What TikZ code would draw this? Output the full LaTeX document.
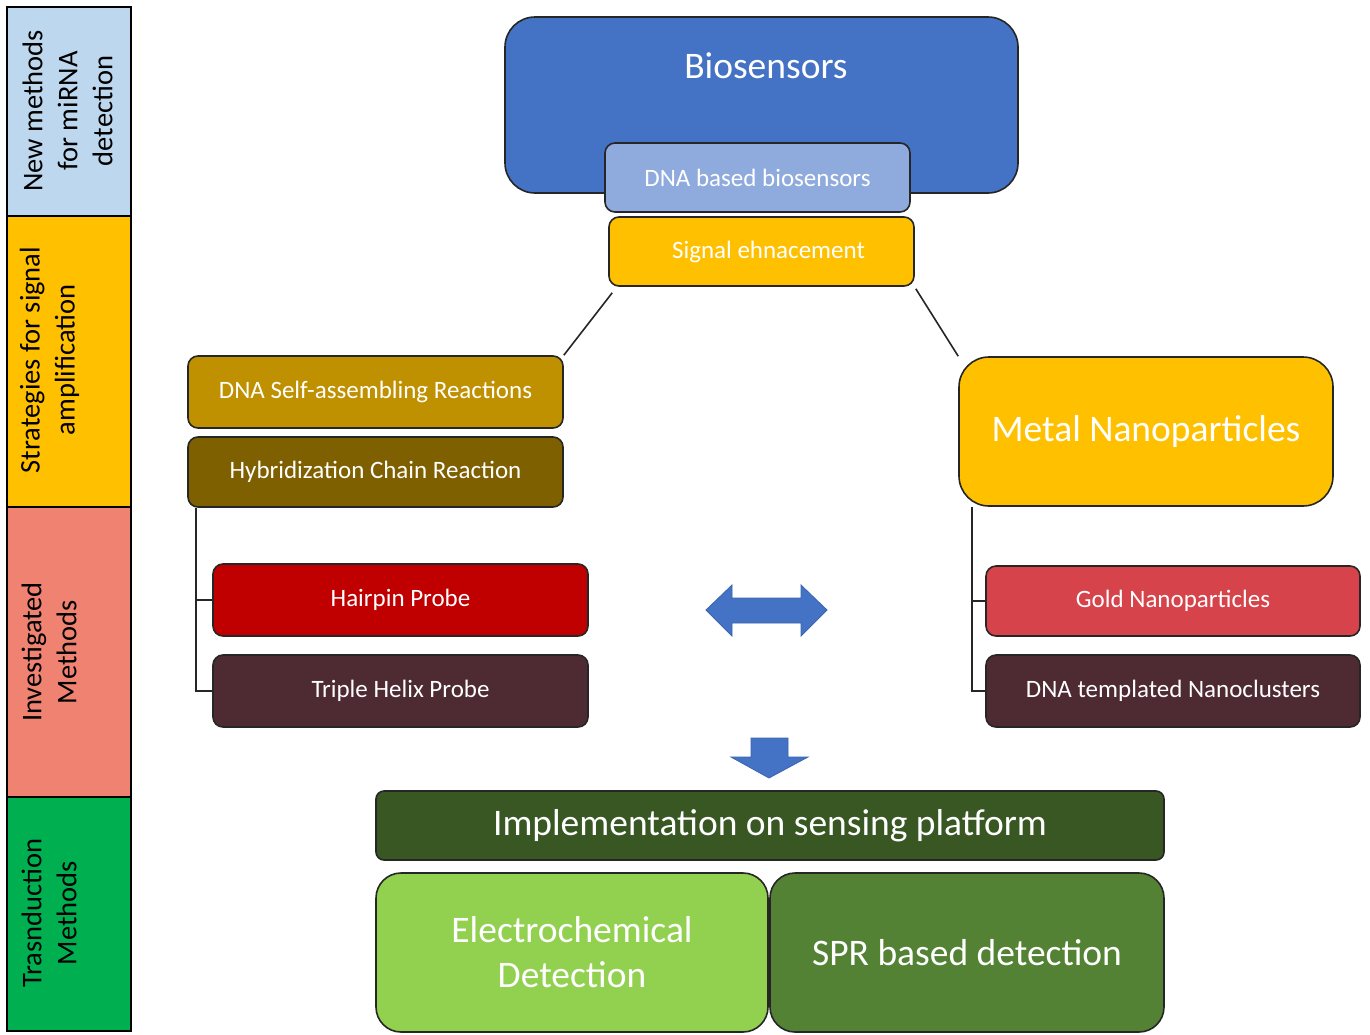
\documentclass[tikz,border=0pt]{standalone}
\usepackage{fontspec}
\setmainfont{Carlito}
\usetikzlibrary{calc}
\definecolor{bandblue}{HTML}{BDD7EE}
\definecolor{amber}{HTML}{FFC000}
\definecolor{salmon}{HTML}{F08272}
\definecolor{bandgreen}{HTML}{00B050}
\definecolor{bioblue}{HTML}{4472C4}
\definecolor{arrowline}{HTML}{3A64AE}
\definecolor{dnablue}{HTML}{8FAADC}
\definecolor{goldA}{HTML}{BF9000}
\definecolor{goldB}{HTML}{7F6000}
\definecolor{darkred}{HTML}{C00000}
\definecolor{maroon}{HTML}{4E2A33}
\definecolor{rose}{HTML}{D6434A}
\definecolor{forest}{HTML}{385723}
\definecolor{lime}{HTML}{92D050}
\definecolor{moss}{HTML}{548235}
\tikzset{
  box/.style={draw=black!85, line width=1.6, rounded corners=10, text=white,
    inner sep=0, align=center, font=\fontsize{25}{30}\selectfont},
  bigfont/.style={font=\fontsize{37.5}{45}\selectfont},
  band/.style={draw=black, line width=1.8, inner sep=0},
  bandtext/.style={rotate=90, align=center, text=black, inner sep=0,
    font=\fontsize{28.5}{35}\selectfont},
  conn/.style={draw=black!85, line width=1.6},
  arrowshape/.style={fill=bioblue, draw=arrowline, line width=0.8, line join=miter}
}
\begin{document}
\begin{tikzpicture}[x=1pt, y=-1pt]
\fill[white] (0,0) rectangle (1370,1034);
\useasboundingbox (0,0) rectangle (1370,1034);

% left bands
\node[band, fill=bandblue, minimum width=124, minimum height=209] (b1) at (69,111.5) {};
\node[band, fill=amber, minimum width=124, minimum height=291] (b2) at (69,361.5) {};
\node[band, fill=salmon, minimum width=124, minimum height=290] (b3) at (69,652) {};
\node[band, fill=bandgreen, minimum width=124, minimum height=234] (b4) at (69,914) {};
\node[bandtext] (t1) at (67.5,111) {New methods\\for miRNA\\detection};
\node[bandtext] (t2) at (49.5,360) {Strategies for signal\\amplification};
\node[bandtext] (t3) at (49,652) {Investigated\\Methods};
\node[bandtext] (t4) at (49,913) {Trasnduction\\Methods};

% top
\node[box, fill=bioblue, minimum width=513, minimum height=176, rounded corners=30] (bio) at (761.5,105) {};
\node[bigfont, text=white, inner sep=0] (biot) at (766,66) {Biosensors};
\node[box, fill=dnablue, minimum width=305, minimum height=69] (dna) at (757.5,177.5) {DNA based biosensors};
\node[box, fill=amber, minimum width=305, minimum height=69] (sig) at (761.5,251.5) {\hspace{14pt}Signal ehnacement};

% left branch
\node[box, fill=goldA, minimum width=375, minimum height=72] (self) at (375.5,392) {DNA Self-assembling Reactions};
\node[box, fill=goldB, minimum width=375, minimum height=70] (hcr) at (375.5,472) {Hybridization Chain Reaction};
\node[box, fill=darkred, minimum width=375, minimum height=72] (hair) at (400.5,600) {Hairpin Probe};
\node[box, fill=maroon, minimum width=375, minimum height=72] (triple) at (400.5,691) {Triple Helix Probe};

% right branch
\node[box, bigfont, fill=amber, minimum width=374, minimum height=149, rounded corners=30] (metal) at (1146,431.5) {Metal Nanoparticles};
\node[box, fill=rose, minimum width=374, minimum height=70] (gold) at (1173,601) {Gold Nanoparticles};
\node[box, fill=maroon, minimum width=374, minimum height=72] (templ) at (1173,691) {DNA templated Nanoclusters};

% bottom
\node[box, bigfont, fill=forest, minimum width=788, minimum height=69, rounded corners=8] (impl) at (770,825.5) {Implementation on sensing platform};
\node[box, bigfont, fill=lime, minimum width=392, minimum height=159, rounded corners=25] (elec) at (572,952.5) {Electrochemical\\Detection};
\node[box, bigfont, fill=moss, minimum width=394, minimum height=159, rounded corners=25] (spr) at (967,952.5) {SPR based detection};

% connectors
\draw[conn] ($(sig.south west)+(4,6)$) -- (self.north east);
\draw[conn] ($(sig.south east)+(1,2)$) -- (metal.north west);
\draw[conn] ([xshift=9]hcr.south west) |- (hair.west);
\draw[conn] ([xshift=9]hcr.south west) |- (triple.west);
\draw[conn] ([xshift=14]metal.south west) |- (gold.west);
\draw[conn] ([xshift=14]metal.south west) |- (templ.west);

% block arrows
\filldraw[arrowshape] (706,610) -- (732,585) -- (732,598) -- (801,598) -- (801,585) -- (827,610)
  -- (801,636) -- (801,623) -- (732,623) -- (732,636) -- cycle;
\filldraw[arrowshape] (751,738) -- (788,738) -- (788,757) -- (808,757) -- (769,778) -- (731,757)
  -- (751,757) -- cycle;
\end{tikzpicture}
\end{document}
